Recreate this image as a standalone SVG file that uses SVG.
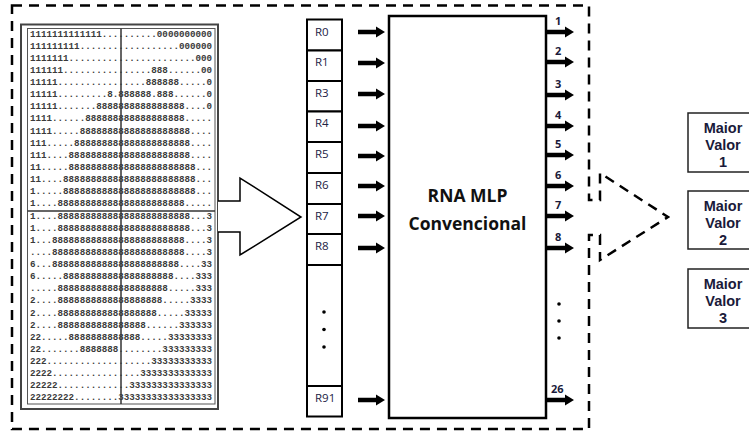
<svg xmlns="http://www.w3.org/2000/svg" xmlns:xlink="http://www.w3.org/1999/xlink" width="749" height="432" viewBox="0 0 749 432">
<style>
.grid{font-family:"Liberation Mono",monospace;font-size:9.2px;font-weight:bold;fill:#3a3a3a}
.reg{fill:#fff;stroke:#000;stroke-width:2}
.rl{font-family:"Open Sans","Liberation Sans",sans-serif;font-size:11.5px;fill:#222244}
.ol{font-family:"Open Sans","Liberation Sans",sans-serif;font-size:11px;font-weight:bold;fill:#1a1a3a}
.mv{font-family:"Liberation Sans",Arial,sans-serif;font-size:14.5px;font-weight:bold;fill:#1a1a3a;text-anchor:middle}
.big{font-family:"Open Sans","Liberation Sans",sans-serif;font-size:17.5px;font-weight:bold;fill:#111;text-anchor:middle}
.dash{fill:none;stroke:#000;stroke-width:2.5;stroke-dasharray:10 7}
</style>
<defs>
<path id="arr" d="M0,-2.2 H18 V-5.5 L27,0 L18,5.5 V2.2 H0 Z" fill="#000"/>
</defs>
<rect width="749" height="432" fill="#fff"/>

<g id="boundary">
<path class="dash" d="M12,5.5 H589 V200 H600 V173 L668,217 L600,260 V235 H589 V429 H12 Z"/>
</g>

<g id="input-grid">
<rect x="21" y="24.5" width="197" height="384.5" fill="#fff" stroke="#444" stroke-width="2"/>
<rect x="27.5" y="28.5" width="187.5" height="375.5" fill="none" stroke="#555" stroke-width="1"/>
<line x1="121" y1="28.5" x2="121" y2="404" stroke="#333" stroke-width="1.5"/>
<line x1="27.5" y1="211" x2="215" y2="211" stroke="#333" stroke-width="1.5"/>
<g class="grid">
<text x="30" y="36.5" textLength="182" lengthAdjust="spacing">1111111111111..........0000000000</text>
<text x="30" y="48.6" textLength="182" lengthAdjust="spacing">111111111..................000000</text>
<text x="30" y="60.8" textLength="182" lengthAdjust="spacing">1111111.......................000</text>
<text x="30" y="72.9" textLength="182" lengthAdjust="spacing">111111................888......00</text>
<text x="30" y="85.0" textLength="182" lengthAdjust="spacing">11111................888888.....0</text>
<text x="30" y="97.2" textLength="182" lengthAdjust="spacing">11111.........8.888888.888......0</text>
<text x="30" y="109.3" textLength="182" lengthAdjust="spacing">11111.......8888888888888888....0</text>
<text x="30" y="121.4" textLength="182" lengthAdjust="spacing">1111......888888888888888888.....</text>
<text x="30" y="133.5" textLength="182" lengthAdjust="spacing">1111.....88888888888888888888....</text>
<text x="30" y="145.7" textLength="182" lengthAdjust="spacing">111.....888888888888888888888....</text>
<text x="30" y="157.8" textLength="182" lengthAdjust="spacing">111....8888888888888888888888....</text>
<text x="30" y="169.9" textLength="182" lengthAdjust="spacing">11.....88888888888888888888888...</text>
<text x="30" y="182.1" textLength="182" lengthAdjust="spacing">11....888888888888888888888888...</text>
<text x="30" y="194.2" textLength="182" lengthAdjust="spacing">1.....888888888888888888888888...</text>
<text x="30" y="206.3" textLength="182" lengthAdjust="spacing">1....88888888888888888888888.....</text>
<text x="30" y="218.5" textLength="182" lengthAdjust="spacing">1....888888888888888888888888...3</text>
<text x="30" y="230.6" textLength="182" lengthAdjust="spacing">1....888888888888888888888888...3</text>
<text x="30" y="242.7" textLength="182" lengthAdjust="spacing">1...888888888888888888888888....3</text>
<text x="30" y="254.8" textLength="182" lengthAdjust="spacing">....888888888888888888888888....3</text>
<text x="30" y="267.0" textLength="182" lengthAdjust="spacing">6...88888888888888888888888....33</text>
<text x="30" y="279.1" textLength="182" lengthAdjust="spacing">6.....88888888888888888888....333</text>
<text x="30" y="291.2" textLength="182" lengthAdjust="spacing">.....88888888888888888888.....333</text>
<text x="30" y="303.4" textLength="182" lengthAdjust="spacing">2....8888888888888888888.....3333</text>
<text x="30" y="315.5" textLength="182" lengthAdjust="spacing">2....888888888888888888.....33333</text>
<text x="30" y="327.6" textLength="182" lengthAdjust="spacing">2....8888888888888888......333333</text>
<text x="30" y="339.8" textLength="182" lengthAdjust="spacing">22.....8888888888888.....33333333</text>
<text x="30" y="351.9" textLength="182" lengthAdjust="spacing">22.......8888888........333333333</text>
<text x="30" y="364.0" textLength="182" lengthAdjust="spacing">222...................33333333333</text>
<text x="30" y="376.1" textLength="182" lengthAdjust="spacing">2222................3333333333333</text>
<text x="30" y="388.3" textLength="182" lengthAdjust="spacing">22222.............333333333333333</text>
<text x="30" y="400.4" textLength="182" lengthAdjust="spacing">22222222........33333333333333333</text>
</g>
</g>

<g id="registers">
<g id="reg-R0"><rect class="reg" x="307" y="19.5" width="35" height="31"/><text class="rl" x="315" y="35.5">R0</text></g>
<g id="reg-R1"><rect class="reg" x="307" y="50.5" width="35" height="30.5"/><text class="rl" x="315" y="66">R1</text></g>
<g id="reg-R3"><rect class="reg" x="307" y="81" width="35" height="30.5"/><text class="rl" x="315" y="96.5">R3</text></g>
<g id="reg-R4"><rect class="reg" x="307" y="111.5" width="35" height="30.5"/><text class="rl" x="315" y="127">R4</text></g>
<g id="reg-R5"><rect class="reg" x="307" y="142" width="35" height="31"/><text class="rl" x="315" y="158">R5</text></g>
<g id="reg-R6"><rect class="reg" x="307" y="173" width="35" height="31"/><text class="rl" x="315" y="188.5">R6</text></g>
<g id="reg-R7"><rect class="reg" x="307" y="204" width="35" height="30"/><text class="rl" x="315" y="219.5">R7</text></g>
<g id="reg-R8"><rect class="reg" x="307" y="234" width="35" height="31"/><text class="rl" x="315" y="250">R8</text></g>
<g id="reg-dots"><rect class="reg" x="307" y="265" width="35" height="121"/>
<circle cx="324" cy="312" r="1.8" fill="#000"/><circle cx="324" cy="329.5" r="1.8" fill="#000"/><circle cx="324" cy="347" r="1.8" fill="#000"/></g>
<g id="reg-R91"><rect class="reg" x="307" y="386" width="35" height="30.5"/><text class="rl" x="315" y="401.5">R91</text></g>
</g>

<g id="mlp">
<rect x="389" y="16" width="157" height="402" fill="#fff" stroke="#000" stroke-width="2.5"/>
<text class="big" x="467.5" y="202">RNA MLP</text>
<text class="big" x="467.5" y="230">Convencional</text>
</g>

<g id="output-labels">
<text class="ol" x="555" y="25">1</text>
<text class="ol" x="555" y="55">2</text>
<text class="ol" x="555" y="88">3</text>
<text class="ol" x="555" y="119">4</text>
<text class="ol" x="555" y="148">5</text>
<text class="ol" x="555" y="179">6</text>
<text class="ol" x="555" y="209">7</text>
<text class="ol" x="555" y="241">8</text>
<text class="ol" x="551" y="393">26</text>
<circle cx="559" cy="304" r="1.8" fill="#000"/><circle cx="559" cy="321" r="1.8" fill="#000"/><circle cx="559" cy="338" r="1.8" fill="#000"/>
</g>

<g id="max1"><rect x="688" y="113" width="64" height="59" fill="#fff" stroke="#222" stroke-width="1.5"/>
<text class="mv" x="723" y="133">Maior</text><text class="mv" x="723" y="150">Valor</text><text class="mv" x="723" y="167">1</text></g>
<g id="max2"><rect x="688" y="191" width="64" height="58" fill="#fff" stroke="#222" stroke-width="1.5"/>
<text class="mv" x="723" y="211">Maior</text><text class="mv" x="723" y="228">Valor</text><text class="mv" x="723" y="245">2</text></g>
<g id="max3"><rect x="688" y="269" width="64" height="59" fill="#fff" stroke="#222" stroke-width="1.5"/>
<text class="mv" x="723" y="289">Maior</text><text class="mv" x="723" y="306">Valor</text><text class="mv" x="723" y="323">3</text></g>

<g id="connectors">
<path d="M218,201 H240 V178 L301,217 L240,255 V232 H218" fill="#fff" stroke="#000" stroke-width="1.5"/>
<use xlink:href="#arr" x="358" y="32"/>
<use xlink:href="#arr" x="358" y="63"/>
<use xlink:href="#arr" x="358" y="94"/>
<use xlink:href="#arr" x="358" y="126"/>
<use xlink:href="#arr" x="358" y="156"/>
<use xlink:href="#arr" x="358" y="186"/>
<use xlink:href="#arr" x="358" y="216"/>
<use xlink:href="#arr" x="358" y="248"/>
<use xlink:href="#arr" x="358" y="400"/>
<use xlink:href="#arr" x="547" y="32"/>
<use xlink:href="#arr" x="547" y="62"/>
<use xlink:href="#arr" x="547" y="95"/>
<use xlink:href="#arr" x="547" y="126"/>
<use xlink:href="#arr" x="547" y="155"/>
<use xlink:href="#arr" x="547" y="186"/>
<use xlink:href="#arr" x="547" y="216"/>
<use xlink:href="#arr" x="547" y="248"/>
<use xlink:href="#arr" x="547" y="400"/>
</g>
</svg>
